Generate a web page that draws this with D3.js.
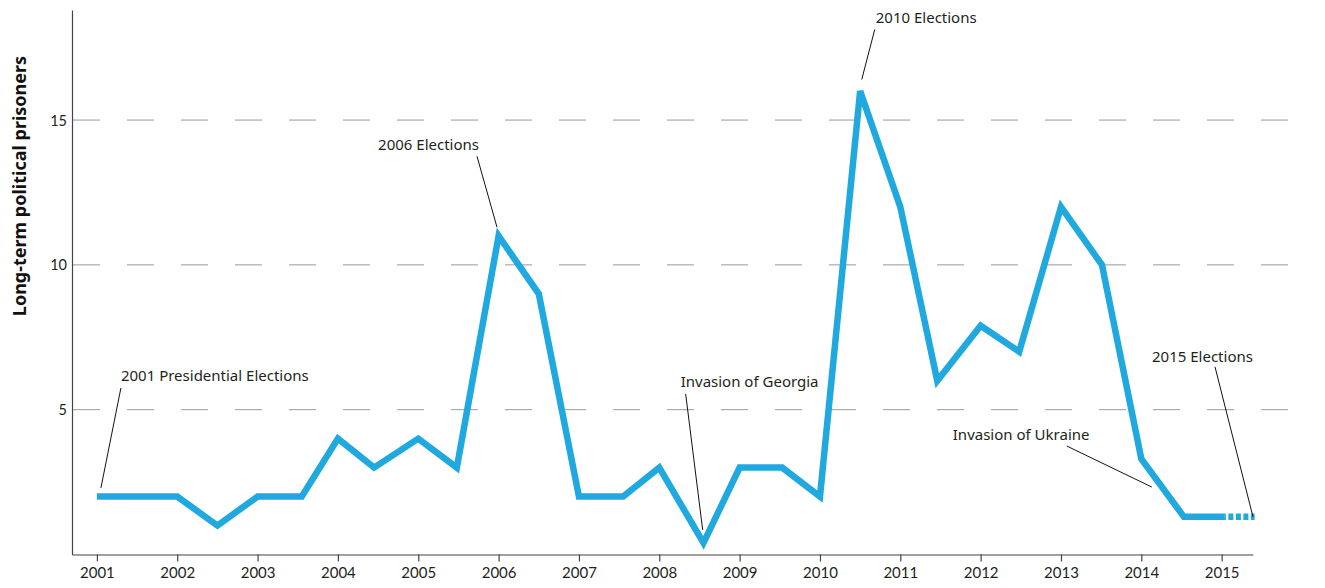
<!DOCTYPE html>
<html>
<head>
<meta charset="utf-8">
<style>
  body { margin: 0; background: #fff; font-family: Lato, "Noto Sans", sans-serif; }
  .axis path, .axis line { stroke: #444; stroke-width: 1.2; }
  .axis text { fill: #231f20; font-family: Lato, sans-serif; }
  .note text { fill: #231f20; font-size: 15px; font-family: "Noto Sans", sans-serif; }
</style>
<title>Long-term political prisoners</title>
</head>
<body>
<script src="https://cdn.jsdelivr.net/npm/d3@7"></script>
<script>

// points along the line (decimal year) and prisoner counts
var years  = [2001, 2001.5, 2002, 2002.5, 2003, 2003.55, 2004, 2004.45, 2005, 2005.48,
              2006, 2006.5, 2007, 2007.55, 2008, 2008.55, 2009, 2009.53, 2010, 2010.5,
              2011, 2011.46, 2012, 2012.48, 2013, 2013.51, 2014, 2014.53, 2015.04];
var values = [2, 2, 2, 1, 2, 2, 4, 3, 4, 3,
              11, 9, 2, 2, 3, 0.4, 3, 3, 2, 16,
              12, 6, 7.9, 7, 12, 10, 3.3, 1.3, 1.3];
// unfinished tail of 2015
var tailYears  = [2015.04, 2015.41];
var tailValues = [1.3, 1.3];

var xTicks = d3.range(2001, 2016);
var yTicks = [5, 10, 15];
var yTitle = "Long-term political prisoners";

// annotations: anchor in data units, offsets (px) for the leader top and the label
var notes = [
  {text: "2001 Presidential Elections", year: 2001.05, value: 2.3,  lx: 20,  ly: -100, tx: 20,   ty: -107, anchor: "start"},
  {text: "2006 Elections",              year: 2005.98, value: 11.3, lx: -20, ly: -71,  tx: -18,  ty: -77,  anchor: "end"},
  {text: "2010 Elections",              year: 2010.52, value: 16.4, lx: 13,  ly: -50,  tx: 14,   ty: -57,  anchor: "start"},
  {text: "Invasion of Georgia",         year: 2008.54, value: 0.85, lx: -17, ly: -136, tx: -22,  ty: -143, anchor: "start"},
  {text: "Invasion of Ukraine",         year: 2014.13, value: 2.33, lx: -85, ly: -41,  tx: -199, ty: -47,  anchor: "start"},
  {text: "2015 Elections",              year: 2015.39, value: 1.3,  lx: -38, ly: -150, tx: -101, ty: -155, anchor: "start"}
];

var W = 1325, H = 588;

var svg = d3.select("body").append("svg")
  .attr("width", W)
  .attr("height", H);

var x = d3.scaleLinear().domain([2000.69, 2015.39]).range([72, 1253]);
var y = d3.scaleLinear().domain([0, 18.8]).range([554.5, 10]);

// dashed gridlines
svg.append("g")
  .selectAll("line")
  .data(yTicks)
  .join("line")
    .attr("x1", 73).attr("x2", 1290)
    .attr("y1", d => y(d)).attr("y2", d => y(d))
    .attr("stroke", "#9a9a9a")
    .attr("stroke-width", 1)
    .attr("stroke-dasharray", "27 27");

// axes
svg.append("g")
  .attr("class", "axis")
  .attr("transform", `translate(0,${y(0)})`)
  .call(d3.axisBottom(x).tickValues(xTicks).tickFormat(d3.format("d")).tickSize(7).tickSizeOuter(0).tickPadding(6))
  .selectAll("text").style("font-size", "15px");

svg.append("g")
  .attr("class", "axis")
  .attr("transform", "translate(72,0)")
  .call(d3.axisLeft(y).tickValues(yTicks).tickSize(0).tickPadding(5))
  .call(g => g.selectAll("text").style("font-size", "14.5px").attr("dy", "0.35em"));

svg.append("text")
  .attr("transform", "translate(26,186) rotate(-90)")
  .attr("text-anchor", "middle")
  .style("font-family", "'Noto Sans', sans-serif")
  .style("font-size", "18px")
  .style("font-weight", "bold")
  .attr("fill", "#111")
  .text(yTitle);

// main series
var line = d3.line()
  .x(d => x(d[0]))
  .y(d => y(d[1]));

svg.append("path")
  .datum(d3.zip(years, values))
  .attr("d", line)
  .attr("fill", "none")
  .attr("stroke", "#1fa9df")
  .attr("stroke-width", 6.5)
  .attr("stroke-linejoin", "miter");

svg.append("path")
  .datum(d3.zip(tailYears, tailValues))
  .attr("d", line)
  .attr("fill", "none")
  .attr("stroke", "#1fa9df")
  .attr("stroke-width", 6.5)
  .attr("stroke-dasharray", "1 2.5 5 2.5 5 2.5 5 2.5 5");

// annotations
var note = svg.append("g")
  .attr("class", "note")
  .selectAll("g")
  .data(notes)
  .join("g")
    .attr("transform", d => `translate(${x(d.year)},${y(d.value)})`);

note.append("line")
  .attr("x1", 0).attr("y1", 0)
  .attr("x2", d => d.lx).attr("y2", d => d.ly)
  .attr("stroke", "#111")
  .attr("stroke-width", 1);

note.append("text")
  .attr("x", d => d.tx)
  .attr("y", d => d.ty)
  .attr("text-anchor", d => d.anchor)
  .text(d => d.text);

</script>
</body>
</html>
